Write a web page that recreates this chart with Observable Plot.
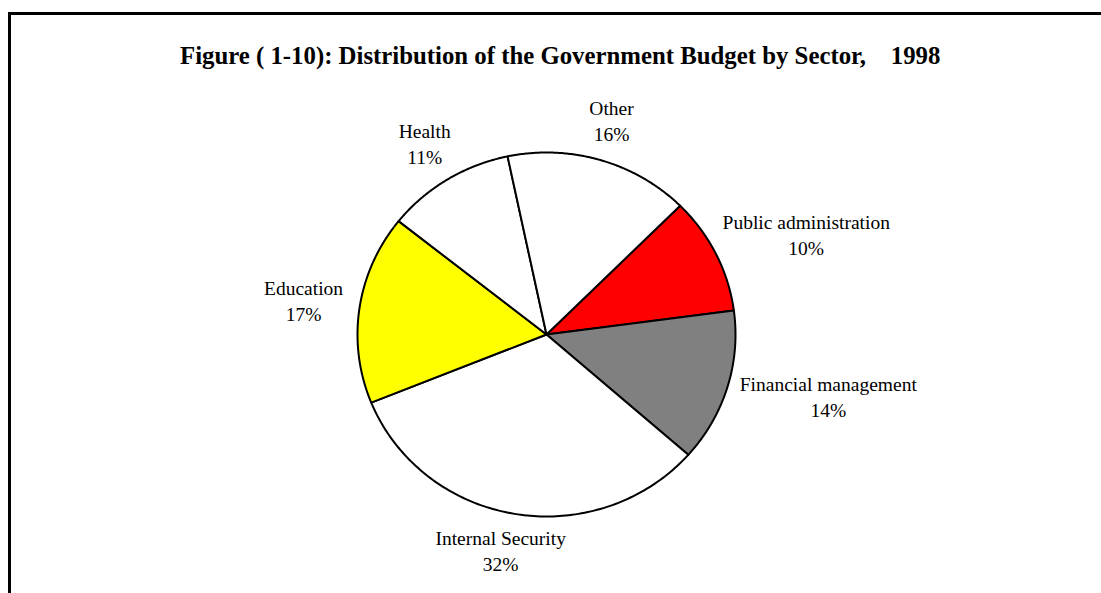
<!DOCTYPE html>
<html>
<head>
<meta charset="utf-8">
<script src="https://cdn.jsdelivr.net/npm/d3@7"></script>
<script src="https://cdn.jsdelivr.net/npm/@observablehq/plot@0.6"></script>
<style>
  html, body { margin: 0; padding: 0; overflow: hidden; background: #fff; width: 1101px; height: 593px; }
  #frame { position: absolute; left: 8px; top: 12px; width: 1300px; height: 800px; border: 3px solid #000; box-sizing: border-box; }
  #title { position: absolute; left: 180px; top: 44.2px; font-family: "Liberation Serif", "Times New Roman", serif; font-weight: bold; font-size: 24.8px; line-height: 1; white-space: pre; color: #000; }
  #chart { position: absolute; left: 0; top: 75px; }
</style>
</head>
<body>
<div id="frame"></div>
<div id="title">Figure ( 1-10): Distribution of the Government Budget by Sector,    1998</div>
<div id="chart"></div>
<script>
// ---- data ----
const names = ["Public administration", "Financial management", "Internal Security", "Education", "Health", "Other"];
const values = [10.4, 13.6, 32.4, 16.8, 11.0, 15.8];
const pctLabels = ["10%", "14%", "32%", "17%", "11%", "16%"];
const palette = ["#FF0000", "#808080", "#FFFFFF", "#FFFF00", "#FFFFFF", "#FFFFFF"];

// ---- layout ----
const W = 1101, H = 518;
const xRange = [357, 735];
const yRange = [441, 77];
const kx = (xRange[1] - xRange[0]) / 2;
const ky = (yRange[0] - yRange[1]) / 2;
const startDeg = 45;
const fontSize = 19.5;
const lineH = 26;

const arcs = d3.pie().sort(null)
  .startAngle(startDeg * Math.PI / 180)
  .endAngle(startDeg * Math.PI / 180 + 2 * Math.PI)(values);

const slicePts = [];
arcs.forEach((a, i) => {
  const n = 120;
  slicePts.push({u: 0, v: 0, name: names[i]});
  for (let j = 0; j <= n; j++) {
    const t = a.startAngle + (a.endAngle - a.startAngle) * j / n;
    slicePts.push({u: Math.sin(t), v: Math.cos(t), name: names[i]});
  }
  slicePts.push({u: 0, v: 0, name: names[i]});
});

const ctx = document.createElement("canvas").getContext("2d");
ctx.font = `${fontSize}px "Liberation Serif"`;
const gap = 0.09;
const labelData = arcs.map((a, i) => {
  const m = (a.startAngle + a.endAngle) / 2;
  const w = Math.max(ctx.measureText(names[i]).width, ctx.measureText(pctLabels[i]).width);
  const h = 2 * lineH - 6;
  const s = Math.sin(m), c = Math.cos(m);
  return {
    cu: (1 + gap) * s + (w / 2 * s) / kx,
    cv: (1 + gap) * c + (h / 2 * c) / ky,
    t: names[i] + "\n" + pctLabels[i]
  };
});

const chart = Plot.plot({
  width: W,
  height: H,
  margin: 0,
  style: {background: "transparent", overflow: "visible"},
  x: {domain: [-1, 1], range: xRange, axis: null},
  y: {domain: [-1, 1], range: yRange, axis: null},
  color: {domain: names, range: palette},
  marks: [
    Plot.line(slicePts, {x: "u", y: "v", z: "name", fill: "name", stroke: "#000", strokeWidth: 2, strokeLinejoin: "round", curve: "linear"}),
    Plot.text(labelData, {x: "cu", y: "cv", dy: -3, text: "t", fontSize: fontSize, fontFamily: "Liberation Serif", lineHeight: lineH / fontSize, textAnchor: "middle", lineAnchor: "middle", fill: "#000"})
  ]
});
document.getElementById("chart").appendChild(chart);
</script>
</body>
</html>
